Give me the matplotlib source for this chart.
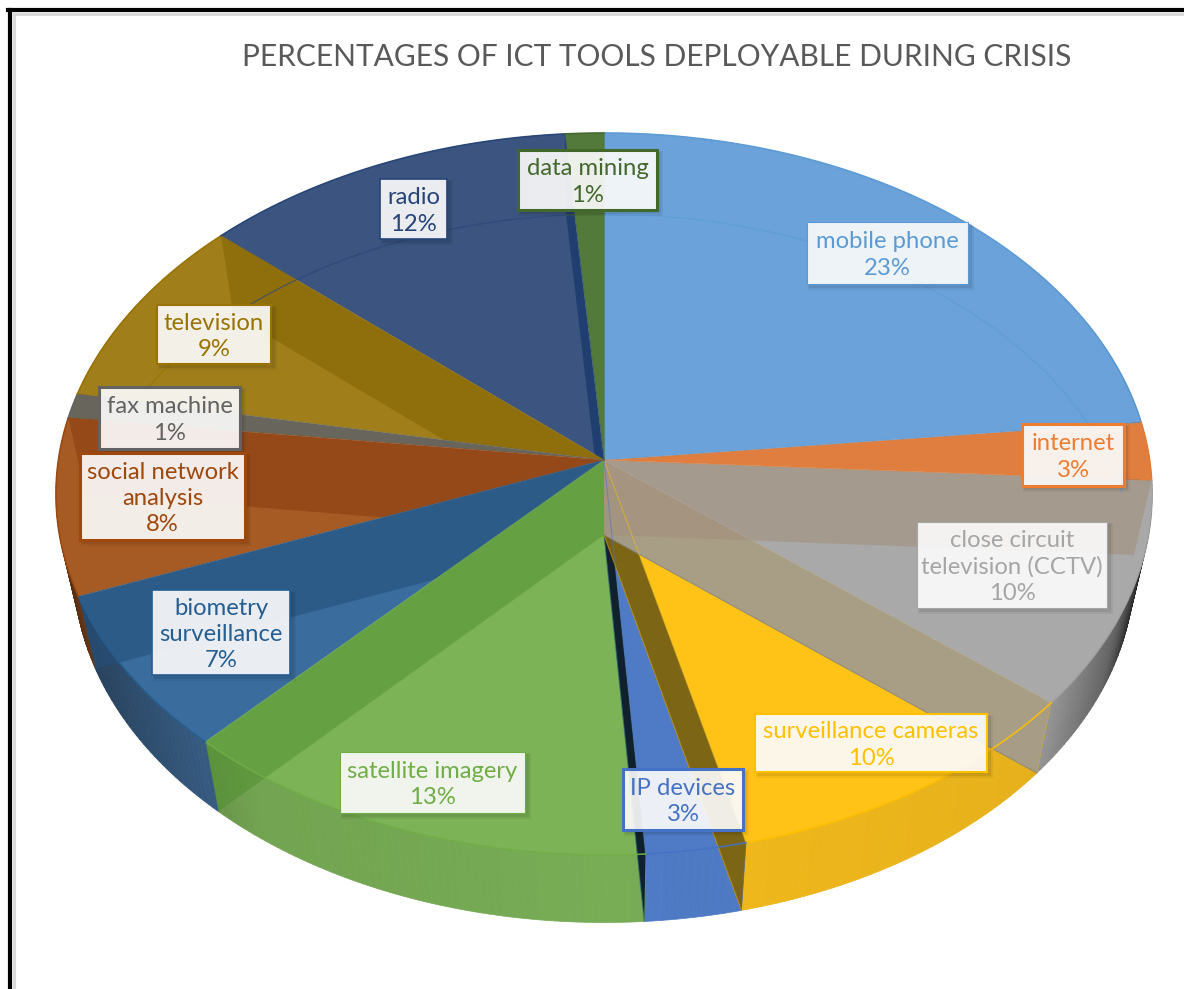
"""
3D pie of ICT tools, perspective ellipse drawn by hand since matplotlib has no 3D pie
"""

import numpy as np
import matplotlib
matplotlib.use('Agg')
import matplotlib.pyplot as plt
from matplotlib.collections import PolyCollection
from matplotlib.patches import PathPatch, Rectangle
from matplotlib.path import Path

plt.rcParams['font.family'] = ['Lato', 'DejaVu Sans']

# ---- data ----
title = 'PERCENTAGES OF ICT TOOLS DEPLOYABLE DURING CRISIS'
names = ['mobile phone', 'internet', 'close circuit\ntelevision (CCTV)',
         'surveillance cameras', 'IP devices', 'satellite imagery',
         'biometry\nsurveillance', 'social network\nanalysis', 'fax machine',
         'television', 'radio', 'data mining']
# shares, the labels show them rounded
shares = [23.3, 2.6, 10.1, 10.2, 2.7, 13.0, 7.1, 7.9, 1.1, 8.6, 12.15, 1.25]

# ---- style ----
base_colors = ['#5B9BD5', '#ED7D31', '#A5A5A5', '#FFC000', '#4472C4', '#70AD47',
               '#255E91', '#9E480E', '#636363', '#997300', '#264478', '#43682B']
face_colors = ['#6AA2D9', '#DF7E3E', '#A9A9A9', '#FFC318', '#4F7BC6', '#7CB356',
               '#3A6D9E', '#A65A24', '#68665C', '#A07F1A', '#3B5580', '#547A3B']
rim_colors = ['#6AA2D9', '#ED8540', '#A5A5A5', '#F2BA1C', '#4F7BC6', '#78AC55',
              '#3F6A96', '#A65A24', '#68665C', '#A07F1A', '#3B5580', '#547A3B']
# side wall at the end of each slice: colour, alpha (seen through the top face)
wall_styles = {1: ('#A3907D', 0.6), 2: ('#A59D8B', 0.97), 3: ('#7F6510', 0.97),
               4: ('#10202C', 1.0), 5: ('#4F8F2F', 0.5), 6: ('#25507A', 0.6),
               7: ('#8A3F10', 0.6), 9: ('#7F6000', 0.5), 10: ('#1F3C70', 0.9)}
wall_order = [4, 3, 5, 6, 7, 9, 10, 2, 1]
clipped_walls = [5, 6, 7, 9, 10]   # on the left they stay inside their own slice
front_slices = [5, 6]              # these also reach onto the outer wall
wall_lines = {2: '#808080', 3: '#C79A10', 4: '#2F6F80'}
# label boxes in pixels: left, top, right, bottom
boxes = [(807, 222, 968, 284), (1022, 424, 1124, 486), (917, 522, 1107, 608),
         (755, 714, 987, 772), (623, 769, 743, 830), (340, 752, 525, 813),
         (152, 590, 290, 675), (80, 453, 245, 540), (99, 387, 240, 449),
         (157, 305, 271, 364), (380, 179, 447, 239), (518, 150, 657, 210)]
box_lw = [0.8, 2.2, 0.8, 1.5, 2.2, 0.8, 1.2, 2.2, 2.2, 1.5, 1.2, 2.2]

TOP = dict(a=545.6, b=357.8, k=0.0942, cy=460.0)
BOT = dict(a=528.0, b=351.0, k=0.0942, cy=535.0)
CX = 604.0


def project(frac, a, b, k, cy):
    """pie fraction (clockwise from 12 o'clock) to pixel position"""
    t = 2 * np.pi * np.asarray(frac)
    x, y = np.sin(t), -np.cos(t)
    w = 1 - k * y
    return np.column_stack([CX + a * x / w, cy + b * y / w])


def rim_shade(frac):
    """the outer wall gets dark towards both sides"""
    x = np.sin(2 * np.pi * np.asarray(frac))
    return np.interp(x, [-1, -0.93, -0.6, 0, 0.75, 0.9, 0.97, 1],
                     [0.5, 0.6, 0.95, 1, 0.95, 0.6, 0.2, 0.1])


def slice_clip(i):
    """area of one slice, the top face plus its piece of outer wall if it is in front"""
    f = np.linspace(starts[i], ends[i], 60)
    apex = [[CX, TOP['cy']]]
    t_pts = project(f, **TOP)
    wedge = Path(np.vstack([apex, t_pts, apex]))
    if i not in front_slices:
        return wedge
    b_pts = project(f, **BOT)
    band = Path(np.vstack([b_pts, t_pts[::-1], b_pts[:1]]))
    return Path.make_compound_path(wedge, band)


ends = np.cumsum(shares) / np.sum(shares)
starts = np.concatenate([[0], ends[:-1]])

fig = plt.figure(figsize=(11.84, 9.89), dpi=100)
ax = fig.add_axes([0, 0, 1, 1])
ax.set_xlim(0, 1184)
ax.set_ylim(989, 0)
ax.axis('off')

# outer wall
for s, e, c in zip(starts, ends, rim_colors):
    f = np.linspace(s, e, max(3, int((e - s) * 500)))
    t_pts = project(f, **TOP)
    b_pts = project(f, **BOT)
    quads = [[t_pts[i], t_pts[i + 1], b_pts[i + 1], b_pts[i]] for i in range(len(f) - 1)]
    rgb = np.array(matplotlib.colors.to_rgb(c))
    cols = [tuple(rgb * rim_shade((f[i] + f[i + 1]) / 2)) for i in range(len(f) - 1)]
    ax.add_collection(PolyCollection(quads, facecolors=cols, edgecolors=cols, linewidths=0.5, zorder=1))

# top faces
for s, e, c in zip(starts, ends, face_colors):
    f = np.linspace(s, e, 80)
    pts = np.vstack([[CX, TOP['cy']], project(f, **TOP)])
    ax.fill(pts[:, 0], pts[:, 1], color=c, lw=0, zorder=2)

# back half of the bottom face, seen through the top
for s, e, c in zip(starts, ends, base_colors):
    f = np.linspace(s, e, 80)
    f = f[(f > 0.775) | (f < 0.232)]
    if len(f) > 1:
        pts = project(f, **BOT)
        ax.plot(pts[:, 0], pts[:, 1], color=c, lw=1, alpha=0.6, zorder=3.5)

# side walls
for i in wall_order:
    c, al = wall_styles[i]
    p_top = project([ends[i]], **TOP)[0]
    p_bot = project([ends[i]], **BOT)[0]
    pts = np.array([[CX, TOP['cy']], p_top, p_bot, [CX, BOT['cy']]])
    poly = ax.fill(pts[:, 0], pts[:, 1], color=c, alpha=al, lw=0, zorder=3)[0]
    if i in clipped_walls:
        clip = PathPatch(slice_clip(i), transform=ax.transData, fc='none', lw=0)
        poly.set_clip_path(clip)
    if i in wall_lines:
        ax.plot(pts[[3, 2], 0], pts[[3, 2], 1], color=wall_lines[i], lw=0.8, alpha=0.7, zorder=3.2)

# edges of the top face
for s, e, c in zip(starts, ends, base_colors):
    f = np.linspace(s, e, 80)
    pts = project(f, **TOP)
    ax.plot(pts[:, 0], pts[:, 1], color=c, lw=1.2, alpha=0.9, zorder=4)
    ax.plot([CX, pts[-1, 0]], [TOP['cy'], pts[-1, 1]], color=c, lw=0.8, alpha=0.5, zorder=4)

# labels
for name, v, box, c, lw in zip(names, shares, boxes, base_colors, box_lw):
    x0, y0, x1, y1 = box
    ax.add_patch(Rectangle((x0 + 1, y0 + 1), x1 - x0 + 5, y1 - y0 + 5, fc='black', alpha=0.05, lw=0, zorder=5))
    ax.add_patch(Rectangle((x0 + 2, y0 + 2), x1 - x0 + 2, y1 - y0 + 2, fc='black', alpha=0.08, lw=0, zorder=5))
    ax.add_patch(Rectangle((x0, y0), x1 - x0, y1 - y0, fc='white', alpha=0.9, lw=0, zorder=6))
    ax.add_patch(Rectangle((x0, y0), x1 - x0, y1 - y0, fc='none', ec=c, lw=lw, zorder=6.5))
    ax.text((x0 + x1) / 2, (y0 + y1) / 2 + 2, f'{name}\n{v:.0f}%', color=c, fontsize=17.2,
            ha='center', va='center', linespacing=1.3, zorder=7)

ax.text(657, 57, title, color='#595959', fontsize=21.5, ha='center', va='center', zorder=7)

# frame of the screenshot, top and left only
ax.plot([13.5, 13.5], [13.5, 989], color='#D9D9D9', lw=2.2, zorder=8)
ax.plot([13.5, 1184], [13.5, 13.5], color='#D9D9D9', lw=2.2, zorder=8)
ax.plot([10, 10], [10, 989], color='black', lw=3, zorder=9)
ax.plot([8, 1184], [10, 10], color='black', lw=3, zorder=9)

plt.savefig('out.png', dpi=100)
